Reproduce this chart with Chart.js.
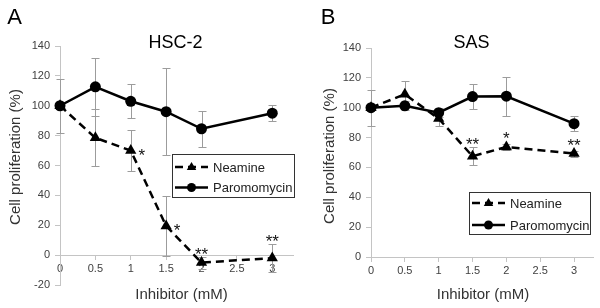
<!DOCTYPE html>
<html>
<head>
<meta charset="utf-8">
<script src="https://cdn.jsdelivr.net/npm/chart.js@4/dist/chart.umd.min.js"></script>
<style>
  body { margin: 0; background: #fff; }
  #wrap { position: relative; width: 600px; height: 308px; }
  canvas { position: absolute; top: 0; }
</style>
</head>
<body>
<div id="wrap">
  <canvas id="chart-a" width="300" height="308" style="left:0"></canvas>
  <canvas id="chart-b" width="300" height="308" style="left:300px"></canvas>
</div>
<script>
const FONT = '"Liberation Sans", Arial, sans-serif';

// data
const doses = [0, 0.5, 1, 1.5, 2, 3];
const xTicks = [0, 0.5, 1, 1.5, 2, 2.5, 3];
const yTicksHSC = [-20, 0, 20, 40, 60, 80, 100, 120, 140];
const yTicksSAS = [0, 20, 40, 60, 80, 100, 120, 140];

const hscNeamine = [100, 78.5, 70, 19.5, -5, -2];
const hscNeamineErr = [0, 19, 14, 20, 4, 9.5];
const hscParo = [100, 112.7, 103, 96, 84.6, 95];
const hscParoErr = [18, 19.5, 11.5, 29, 12, 5.5];
const hscStars = ['', '', '*', '*', '**', '**'];

const sasNeamine = [100, 109, 92.7, 67.5, 73.7, 69.3];
const sasNeamineErr = [0, 9, 5, 6, 2, 2];
const sasParo = [100, 101.3, 96.7, 107.5, 107.7, 89.3];
const sasParoErr = [12, 3, 3, 8.5, 13, 5];
const sasStars = ['', '', '', '**', '*', '**'];

const seriesNames = ['Neamine', 'Paromomycin'];
const xAxisTitle = 'Inhibitor (mM)';
const yAxisTitle = 'Cell proliferation (%)';

function toPoints(vals) {
  return doses.map((d, i) => ({ x: d, y: vals[i] }));
}

function drawMarker(ctx, style, x, y, r) {
  ctx.beginPath();
  if (style === 'triangle') {
    ctx.moveTo(x, y - r);
    ctx.lineTo(x + r * 0.95, y + r * 0.6);
    ctx.lineTo(x - r * 0.95, y + r * 0.6);
    ctx.closePath();
  } else {
    ctx.arc(x, y, r, 0, Math.PI * 2);
  }
  ctx.fill();
}

const panelPlugin = {
  id: 'panel',
  beforeDatasetsDraw(chart) {
    const { ctx, scales: { x, y } } = chart;
    ctx.save();
    ctx.strokeStyle = '#9c9c9c';
    ctx.lineWidth = 1;
    chart.data.datasets.forEach(ds => {
      ds.data.forEach((p, i) => {
        const e = ds.errors[i];
        if (!e) return;
        const px = Math.round(x.getPixelForValue(p.x)) + 0.5;
        const top = Math.round(y.getPixelForValue(p.y + e)) + 0.5;
        const bot = Math.round(y.getPixelForValue(p.y - e)) + 0.5;
        ctx.beginPath();
        ctx.moveTo(px, top); ctx.lineTo(px, bot);
        ctx.moveTo(px - 4, top); ctx.lineTo(px + 4, top);
        ctx.moveTo(px - 4, bot); ctx.lineTo(px + 4, bot);
        ctx.stroke();
      });
    });
    ctx.restore();
  },
  afterDraw(chart, args, opts) {
    const { ctx, scales: { x, y } } = chart;
    ctx.save();
    ctx.textAlign = 'center';
    ctx.textBaseline = 'middle';

    ctx.fillStyle = '#000';
    ctx.font = '22px ' + FONT;
    ctx.fillText(opts.letter, opts.letterX, 18);
    ctx.font = '18px ' + FONT;
    ctx.fillText(opts.title, opts.titleX, 43);

    ctx.fillStyle = '#333';
    ctx.font = '15px ' + FONT;
    ctx.fillText(xAxisTitle, opts.xTitleX, 295);
    ctx.save();
    ctx.translate(opts.yTitleX, opts.yTitleY);
    ctx.rotate(-Math.PI / 2);
    ctx.fillText(yAxisTitle, 0, 0);
    ctx.restore();

    // significance stars on the Neamine series
    const ds = chart.data.datasets[0];
    ctx.fillStyle = '#111';
    ctx.font = '17px ' + FONT;
    ctx.textBaseline = 'alphabetic';
    opts.stars.forEach((s, i) => {
      if (!s) return;
      const p = ds.data[i];
      const px = x.getPixelForValue(p.x);
      const py = y.getPixelForValue(p.y);
      if (opts.starsBeside.includes(i)) {
        ctx.fillText(s, px + 11, py + 10);
      } else {
        const top = y.getPixelForValue(p.y + (ds.errors[i] || 0));
        ctx.fillText(s, px, Math.min(top, py - 6) - 7 + 10);
      }
    });

    // legend box
    const lg = opts.legend;
    ctx.strokeStyle = '#333';
    ctx.lineWidth = 1;
    ctx.strokeRect(lg.x + 0.5, lg.y + 0.5, lg.w, lg.h);
    ctx.font = '13px ' + FONT;
    ctx.textAlign = 'left';
    ctx.textBaseline = 'middle';
    chart.data.datasets.forEach((d, i) => {
      const cy = lg.y + lg.rowY[i];
      ctx.strokeStyle = '#000';
      ctx.fillStyle = '#000';
      ctx.lineWidth = 2.5;
      ctx.setLineDash(d.borderDash || []);
      ctx.beginPath();
      ctx.moveTo(lg.x + 3, cy);
      ctx.lineTo(lg.x + 36, cy);
      ctx.stroke();
      ctx.setLineDash([]);
      drawMarker(ctx, d.pointStyle, lg.x + 19.5, cy, d.pointStyle === 'triangle' ? 5 : 4.5);
      ctx.fillStyle = '#222';
      ctx.fillText(d.label, lg.x + 41, cy + 1);
    });
    ctx.restore();
  }
};

function buildChart(canvasId, neamine, neamineErr, paro, paroErr, yTicks, xMax, panel) {
  const ctx = document.getElementById(canvasId).getContext('2d');
  return new Chart(ctx, {
    type: 'line',
    data: {
      datasets: [{
        label: seriesNames[0],
        data: toPoints(neamine),
        errors: neamineErr,
        borderColor: '#000',
        backgroundColor: '#000',
        borderWidth: 2.5,
        borderDash: [8, 5],
        pointStyle: 'triangle',
        pointRadius: 6.5,
        pointBorderWidth: 0,
        clip: false
      }, {
        label: seriesNames[1],
        data: toPoints(paro),
        errors: paroErr,
        borderColor: '#000',
        backgroundColor: '#000',
        borderWidth: 2.5,
        pointStyle: 'circle',
        pointRadius: 5.5,
        pointBorderWidth: 0,
        clip: false
      }]
    },
    options: {
      responsive: false,
      animation: false,
      devicePixelRatio: 1,
      layout: { padding: panel.padding },
      plugins: {
        legend: { display: false },
        tooltip: { enabled: false },
        panel: panel
      },
      scales: {
        x: {
          type: 'linear',
          min: 0,
          max: xMax,
          position: { y: 0 },
          afterBuildTicks: s => { s.ticks = xTicks.map(v => ({ value: v })); },
          grid: { drawOnChartArea: false, tickLength: 4, color: '#c4c4c4' },
          border: { color: '#c4c4c4' },
          ticks: {
            color: '#404040', font: { family: FONT, size: 11 }, padding: 3, maxRotation: 0,
            callback: v => String(v)
          }
        },
        y: {
          min: yTicks[0],
          max: yTicks[yTicks.length - 1],
          afterBuildTicks: s => { s.ticks = yTicks.map(v => ({ value: v })); },
          afterFit: s => { s.width = panel.yWidth; },
          grid: { drawOnChartArea: false, tickLength: 5, color: '#c4c4c4' },
          border: { color: '#c4c4c4' },
          ticks: { color: '#404040', font: { family: FONT, size: 11 }, padding: 5, callback: v => String(v) }
        }
      }
    },
    plugins: [panelPlugin]
  });
}

buildChart('chart-a', hscNeamine, hscNeamineErr, hscParo, hscParoErr, yTicksHSC, 3.3, {
  letter: 'A', letterX: 14.5, title: 'HSC-2', titleX: 175.5,
  xTitleX: 181.5, yTitleX: 16, yTitleY: 157,
  stars: hscStars, starsBeside: [2, 3],
  legend: { x: 172, y: 154, w: 122, h: 43, rowY: [13, 33.5] },
  padding: { left: 0, right: 5, top: 46, bottom: 23 },
  yWidth: 60
});

buildChart('chart-b', sasNeamine, sasNeamineErr, sasParo, sasParoErr, yTicksSAS, 3.28, {
  letter: 'B', letterX: 28, title: 'SAS', titleX: 171.5,
  xTitleX: 183, yTitleX: 30, yTitleY: 156,
  stars: sasStars, starsBeside: [],
  legend: { x: 169, y: 192, w: 121, h: 42, rowY: [11, 33] },
  padding: { left: 0, right: 7, top: 48, bottom: 51 },
  yWidth: 71
});
</script>
</body>
</html>
